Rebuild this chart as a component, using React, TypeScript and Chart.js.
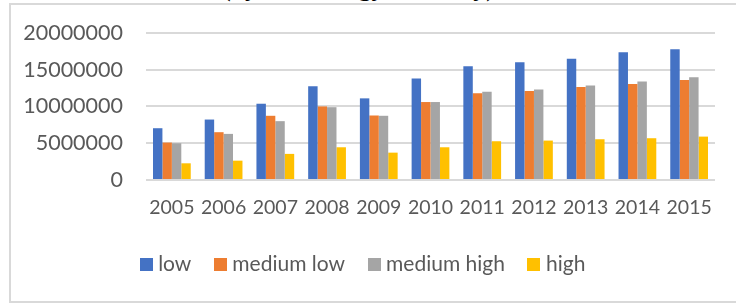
import React, { useEffect, useRef } from "react";
import { Chart, registerables } from "chart.js";

Chart.register(...registerables);

const years = ["2005", "2006", "2007", "2008", "2009", "2010", "2011", "2012", "2013", "2014", "2015"];
const lowValues = [7040000, 8220000, 10370000, 12730000, 11100000, 13800000, 15460000, 16000000, 16500000, 17370000, 17780000];
const mediumLowValues = [5090000, 6500000, 8730000, 10000000, 8770000, 10600000, 11800000, 12100000, 12630000, 13040000, 13590000];
const mediumHighValues = [5000000, 6270000, 8000000, 9900000, 8730000, 10600000, 12000000, 12300000, 12860000, 13400000, 13960000];
const highValues = [2270000, 2630000, 3550000, 4450000, 3720000, 4450000, 5270000, 5360000, 5540000, 5680000, 5900000];
const seriesNames = ["low", "medium low", "medium high", "high"];
const seriesColors = ["#4472C4", "#ED7D31", "#A5A5A5", "#FFC000"];
const yMax = 20000000;
const yStep = 5000000;

const TEXT = "#595959";
const FONT = "Lato, 'Liberation Sans', sans-serif";

function makeSwatch(color: string): HTMLCanvasElement {
  const c = document.createElement("canvas");
  c.width = 13;
  c.height = 13;
  const ctx = c.getContext("2d");
  if (ctx) {
    ctx.fillStyle = color;
    ctx.fillRect(0, 0, 13, 13);
  }
  return c;
}

export default function App() {
  const ref = useRef<HTMLCanvasElement | null>(null);

  useEffect(() => {
    if (!ref.current) return;
    const values = [lowValues, mediumLowValues, mediumHighValues, highValues];
    const swatches = seriesColors.map(makeSwatch);
    const chart = new Chart(ref.current, {
      type: "bar",
      data: {
        labels: years,
        datasets: seriesNames.map((name, i) => ({
          label: name,
          data: values[i],
          backgroundColor: seriesColors[i],
          borderWidth: 0,
          categoryPercentage: 0.73,
          barPercentage: 1.0,
        })),
      },
      options: {
        responsive: false,
        animation: false,
        layout: { padding: { left: 15, right: 21, top: 0, bottom: 20.5 } },
        plugins: {
          title: { display: false },
          tooltip: { enabled: false },
          legend: {
            position: "bottom",
            labels: {
              color: TEXT,
              font: { family: FONT, size: 21 },
              usePointStyle: true,
              pointStyleWidth: 3,
              boxWidth: 13,
              boxHeight: 13,
              padding: 27.5,
              generateLabels: (ch: any) => {
                const base = (Chart as any).defaults.plugins.legend.labels.generateLabels(ch);
                return base.map((item: any, i: number) => ({ ...item, pointStyle: swatches[i], fontColor: TEXT }));
              },
            },
          },
        },
        scales: {
          x: {
            grid: { display: false, drawTicks: false },
            border: { display: false },
            ticks: {
              color: TEXT,
              font: { family: FONT, size: 19.5 },
              padding: 16.5,
              maxRotation: 0,
              autoSkip: false,
            },
            afterFit: (scale: any) => {
              scale.height = 46;
            },
          },
          y: {
            min: 0,
            max: yMax,
            grid: { color: "#d9d9d9", lineWidth: 2, drawTicks: true, tickLength: 3, tickColor: "rgba(0,0,0,0)" },
            border: { display: false },
            ticks: {
              stepSize: yStep,
              color: TEXT,
              font: { family: FONT, size: 21.5 },
              padding: 20,
              callback: (v: any) => String(v),
            },
            afterFit: (scale: any) => {
              scale.width = 131;
            },
          },
        },
      },
    });
    return () => chart.destroy();
  }, []);

  return (
    <div style={{ position: "fixed", left: 0, top: 0, width: 736, height: 305, overflow: "hidden", background: "#fff" }}>
      <div
        style={{
          position: "absolute",
          left: 9,
          top: 3,
          width: 800,
          height: 296,
          border: "2px solid #d9d9d9",
          boxSizing: "content-box",
        }}
      />
      <div
        style={{
          position: "absolute",
          left: 222,
          top: -25,
          fontFamily: "'Liberation Serif', 'Times New Roman', serif",
          fontWeight: "bold",
          fontSize: 26,
          lineHeight: "26px",
          whiteSpace: "nowrap",
          color: "#000",
        }}
      >
        (by technology intensity)
      </div>
      <canvas ref={ref} width={736} height={305} style={{ position: "absolute", left: 0, top: 0, width: 736, height: 305 }} />
    </div>
  );
}
